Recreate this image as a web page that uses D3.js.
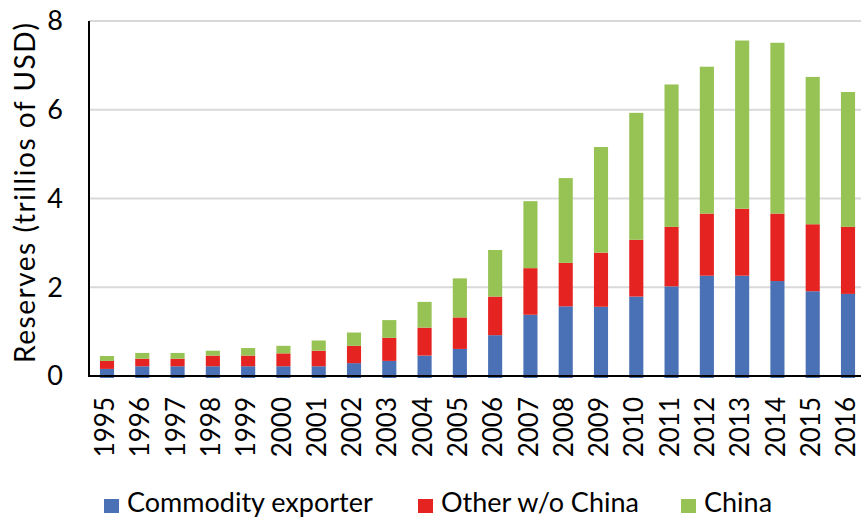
<!DOCTYPE html>
<html>
<head>
<meta charset="utf-8">
<script src="https://cdn.jsdelivr.net/npm/d3@7"></script>
<style>
  body { margin: 0; background: #fff; }
  text { font-family: Lato, "Open Sans", sans-serif; fill: #000; }
</style>
</head>
<body>
<svg id="chart" width="861" height="520"></svg>
<script>
// values in trillions of USD
let years = ['1995','1996','1997','1998','1999','2000','2001','2002','2003','2004','2005',
             '2006','2007','2008','2009','2010','2011','2012','2013','2014','2015','2016'];
let commodity = [0.16,0.22,0.22,0.22,0.22,0.22,0.22,0.29,0.34,0.46,0.61,
                 0.92,1.38,1.57,1.56,1.79,2.02,2.26,2.26,2.14,1.91,1.85];
let otherNoChina = [0.18,0.17,0.17,0.24,0.24,0.29,0.35,0.39,0.52,0.63,0.71,
                    0.87,1.05,0.98,1.22,1.28,1.34,1.40,1.51,1.52,1.51,1.51];
let china = [0.11,0.13,0.13,0.11,0.17,0.17,0.23,0.30,0.40,0.58,0.88,
             1.05,1.51,1.91,2.38,2.86,3.21,3.31,3.79,3.85,3.32,3.04];
let yTicks = [0, 2, 4, 6, 8];
let seriesNames = ['Commodity exporter', 'Other w/o China', 'China'];
let seriesColors = ['#4a71b6', '#e52421', '#97c354'];

let svg = d3.select('#chart');
let margin = {top: 21, left: 89, bottom: 376};

let rows = years.map(function(y, i) {
  return {year: y, c: commodity[i], o: otherNoChina[i], ch: china[i]};
});

let x = d3.scaleBand()
  .domain(years)
  .range([margin.left, 866])
  .paddingInner(0.6)
  .paddingOuter(0.31);

let y = d3.scaleLinear().domain([0, 8]).range([376, 21]);

// gridlines
svg.append('g')
  .selectAll('line')
  .data(yTicks.filter(function(d) { return d > 0; }))
  .enter().append('line')
    .attr('x1', margin.left).attr('x2', 861)
    .attr('y1', function(d) { return y(d); })
    .attr('y2', function(d) { return y(d); })
    .attr('stroke', '#d9d9d9')
    .attr('stroke-width', 2);

// stacked bars
let stack = d3.stack().keys(['c', 'o', 'ch']);
let layers = stack(rows);

svg.append('g')
  .selectAll('g')
  .data(layers)
  .enter().append('g')
    .attr('fill', function(d, i) { return seriesColors[i]; })
  .selectAll('rect')
  .data(function(d) { return d; })
  .enter().append('rect')
    .attr('x', function(d) { return x(d.data.year); })
    .attr('width', x.bandwidth())
    .attr('y', function(d) { return y(d[1]); })
    .attr('height', function(d) { return y(d[0]) - y(d[1]) + (d[0] === 0 ? 2 : 0); });

// axes lines
svg.append('line')
  .attr('x1', margin.left).attr('x2', margin.left)
  .attr('y1', 21).attr('y2', 377)
  .attr('stroke', '#000').attr('stroke-width', 2);
svg.append('line')
  .attr('x1', margin.left - 1).attr('x2', 861)
  .attr('y1', y(0)).attr('y2', y(0))
  .attr('stroke', '#000').attr('stroke-width', 2);

// y tick labels
svg.append('g')
  .selectAll('text')
  .data(yTicks)
  .enter().append('text')
    .attr('x', 63)
    .attr('y', function(d) { return y(d); })
    .attr('dy', '0.35em')
    .attr('text-anchor', 'end')
    .style('font-size', '27px')
    .text(function(d) { return d; });

// y axis title
svg.append('text')
  .attr('transform', 'translate(25,' + 193 + ') rotate(-90)')
  .attr('text-anchor', 'middle')
  .attr('dy', '0.35em')
  .attr('textLength', 340)
  .attr('lengthAdjust', 'spacing')
  .style('font-size', '28px')
  .text('Reserves (trillios of USD)');

// year labels
svg.append('g')
  .selectAll('text')
  .data(years)
  .enter().append('text')
    .attr('transform', function(d) {
      return 'translate(' + (x(d) + x.bandwidth() / 2 - 2) + ',397) rotate(-90)';
    })
    .attr('text-anchor', 'end')
    .attr('dy', '0.35em')
    .style('font-size', '26px')
    .text(function(d) { return d; });

// legend
let legendX = [104, 418, 681];
let legend = svg.append('g')
  .selectAll('g')
  .data(seriesNames)
  .enter().append('g')
    .attr('transform', function(d, i) { return 'translate(' + legendX[i] + ',0)'; });
legend.append('rect')
  .attr('x', 0).attr('y', 499)
  .attr('width', 15).attr('height', 14)
  .attr('fill', function(d, i) { return seriesColors[i]; });
legend.append('text')
  .attr('x', 23).attr('y', 512)
  .style('font-size', '27px')
  .text(function(d) { return d; });
</script>
</body>
</html>
